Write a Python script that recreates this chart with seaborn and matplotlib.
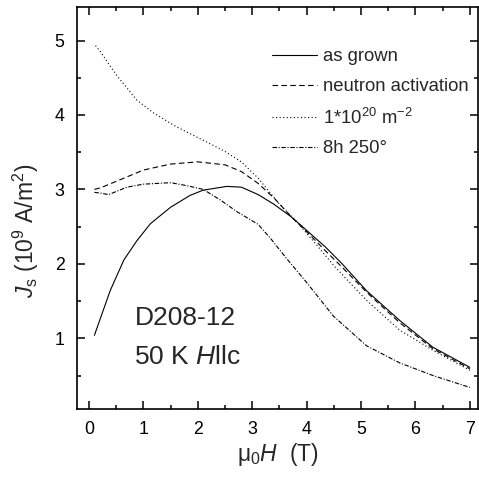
import numpy as np
import pandas as pd
import matplotlib
matplotlib.use("Agg")
from matplotlib import pyplot as plt
from matplotlib.ticker import MultipleLocator
import seaborn as sns

# values
grown_x = [0.1, 0.39, 0.64, 0.88, 1.13, 1.5, 1.86, 2.1, 2.53, 2.8, 3.11, 3.4, 3.72, 4.0, 4.34, 4.64, 5.1, 5.71, 6.32, 7.0]
grown_y = [1.04, 1.64, 2.05, 2.31, 2.54, 2.76, 2.92, 2.99, 3.04, 3.03, 2.93, 2.8, 2.63, 2.45, 2.23, 2.01, 1.64, 1.24, 0.88, 0.61]

neutron_x = [0.1, 0.21, 0.64, 1.0, 1.5, 2.0, 2.5, 2.8, 3.11, 3.42, 3.72, 4.03, 4.34, 4.7, 5.1, 5.71, 6.32, 7.0]
neutron_y = [3.0, 3.02, 3.15, 3.26, 3.34, 3.37, 3.33, 3.24, 3.08, 2.87, 2.63, 2.41, 2.18, 1.92, 1.62, 1.21, 0.86, 0.59]

fluence_x = [0.12, 0.2, 0.51, 0.88, 1.2, 1.61, 2.1, 2.5, 2.8, 3.11, 3.48, 3.85, 4.21, 4.52, 5.1, 5.71, 6.32, 7.0]
fluence_y = [4.93, 4.86, 4.53, 4.2, 4.02, 3.84, 3.66, 3.51, 3.37, 3.15, 2.82, 2.54, 2.23, 1.96, 1.51, 1.11, 0.84, 0.57]

anneal_x = [0.1, 0.21, 0.36, 0.7, 1.0, 1.5, 1.8, 2.1, 2.41, 2.72, 3.11, 3.35, 3.6, 4.0, 4.49, 5.1, 5.71, 6.32, 7.0]
anneal_y = [2.96, 2.95, 2.93, 3.03, 3.07, 3.09, 3.05, 3.0, 2.86, 2.7, 2.53, 2.33, 2.1, 1.75, 1.3, 0.9, 0.67, 0.5, 0.34]

labels = ["as grown", "neutron activation", "1*10$^{20}$ m$^{-2}$", "8h 250\u00b0"]
styles = ["-", (0, (5, 3)), (0, (1, 2.2)), (0, (4, 1.5, 1, 1.5))]

sns.set_style("ticks")
plt.rcParams['font.family'] = ['Liberation Sans', 'DejaVu Sans']
plt.rcParams['mathtext.fontset'] = 'custom'
plt.rcParams['mathtext.rm'] = 'Liberation Sans'
plt.rcParams['mathtext.it'] = 'Liberation Sans:italic'
plt.rcParams['mathtext.bf'] = 'Liberation Sans:bold'

fig = plt.figure(figsize=(4.79, 4.78), dpi=100)
ax = fig.add_axes([77 / 479, 69 / 478, 401 / 479, 402 / 478])

series = [(grown_x, grown_y), (neutron_x, neutron_y), (fluence_x, fluence_y), (anneal_x, anneal_y)]
for (xs, ys), lab, ls in zip(series, labels, styles):
    sns.lineplot(x=xs, y=ys, ax=ax, color='black', linestyle=ls, linewidth=0.8,
                 label=lab, sort=False, estimator=None)

ax.set_xlim(-0.22, 7.15)
ax.set_ylim(0.05, 5.45)
ax.xaxis.set_major_locator(MultipleLocator(1))
ax.xaxis.set_minor_locator(MultipleLocator(0.5))
ax.yaxis.set_major_locator(MultipleLocator(1))
ax.yaxis.set_minor_locator(MultipleLocator(0.5))
ax.set_yticks([1, 2, 3, 4, 5])
ax.tick_params(which='both', direction='in', top=True, right=True, width=1.1, labelsize=12.8, colors='black')
ax.tick_params(which='major', length=6, pad=9)
ax.tick_params(which='minor', length=3)
for s in ax.spines.values():
    s.set_linewidth(1.2)
    s.set_color('black')

ax.set_xlabel(r"$\mathrm{\mu}_0\mathit{H}$  (T)", fontsize=16.5, labelpad=2)
ax.set_ylabel(r"$\mathit{J}_\mathrm{s}$ (10$^9$ A/m$^2$)", fontsize=16.5)
ax.yaxis.set_label_coords(-0.09, 0.443)

ax.text(135, 160, "D208-12", transform=None, fontsize=19, va='center', ha='left')
ax.text(134, 121, "50 K $\\mathit{H}$llc", transform=None, fontsize=19, va='center', ha='left')

leg = ax.legend(loc='upper left', bbox_to_anchor=(0.486, 0.897), frameon=False, fontsize=13.3,
                handlelength=2.45, handletextpad=0.3, labelspacing=0.68, borderpad=0, borderaxespad=0)

fig.savefig("out.png", dpi=100)
